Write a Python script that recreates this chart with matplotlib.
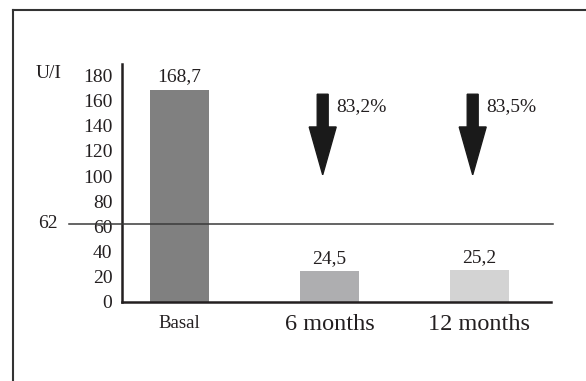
import matplotlib
matplotlib.use('Agg')
import matplotlib.pyplot as plt
from matplotlib.lines import Line2D
import matplotlib.transforms as mtransforms

# data
categories = ['Basal', '6 months', '12 months']
values = [168.7, 24.5, 25.2]
value_labels = ['168,7', '24,5', '25,2']
drops = ['83,2%', '83,5%']          # reduction vs basal, for 6 and 12 months
reference_value = 62
y_ticks = [0, 20, 40, 60, 80, 100, 120, 140, 160, 180]

bar_colors = ['#808080', '#aeaeb0', '#d3d3d3']
ink = '#231f20'
serif = ['Liberation Serif', 'DejaVu Serif']

plt.rcParams['font.family'] = serif

fig = plt.figure(figsize=(5.86, 3.81), dpi=100)
ax = fig.add_axes([122 / 586, 1 - 302 / 381, 429 / 586, 238 / 381])

x = list(range(len(categories)))
ax.bar(x, values, width=0.39, color=bar_colors, zorder=2)

for xi, v, lab in zip(x, values, value_labels):
    ax.annotate(lab, (xi, v), xytext=(0, 3), textcoords='offset points',
                ha='center', va='bottom', fontsize=14, color=ink)

# reference line, runs out past the y axis
ax.axhline(reference_value, xmin=-0.1235, xmax=1.005, color='#3a3a3a',
           lw=1.1, clip_on=False, zorder=3)
trans = mtransforms.blended_transform_factory(ax.transAxes, ax.transData)
ax.text(-0.149, reference_value, str(reference_value), transform=trans,
        ha='right', va='center', fontsize=14, color=ink)

# down arrows with percentage drop
for xi, txt in zip(x[1:], drops):
    ax.arrow(xi - 0.045, 165, 0, -64, width=0.073, head_width=0.18,
             head_length=38, length_includes_head=True,
             color='#1a1a1a', zorder=3)
    ax.text(xi + 0.045, 155, txt, ha='left', va='center', fontsize=14,
            color=ink)

ax.set_xlim(-0.383, 2.477)
ax.set_ylim(0, 189)
ax.set_yticks(y_ticks)
ax.set_yticklabels([str(t) for t in y_ticks], fontsize=14, color=ink)
ax.set_xticks(x)
ax.set_xticklabels(categories, color=ink)
for lab, fs in zip(ax.get_xticklabels(), [13.5, 17.5, 17.5]):
    lab.set_fontsize(fs)
ax.tick_params(axis='y', length=0, pad=7)
ax.tick_params(axis='x', length=0, pad=9)

for s in ['top', 'right']:
    ax.spines[s].set_visible(False)
for s in ['left', 'bottom']:
    ax.spines[s].set_color(ink)
    ax.spines[s].set_linewidth(1.8)

fig.text(36 / 586, 1 - 74 / 381, 'U/I', ha='left', va='center',
         fontsize=14, color=ink)

# open frame: top and left edges only
fig.add_artist(Line2D([13 / 586, 1], [1 - 10 / 381, 1 - 10 / 381],
                      transform=fig.transFigure, color='#333333', lw=1.5))
fig.add_artist(Line2D([13 / 586, 13 / 586], [0, 1 - 10 / 381],
                      transform=fig.transFigure, color='#333333', lw=1.5))

fig.savefig('out.png', dpi=100)
